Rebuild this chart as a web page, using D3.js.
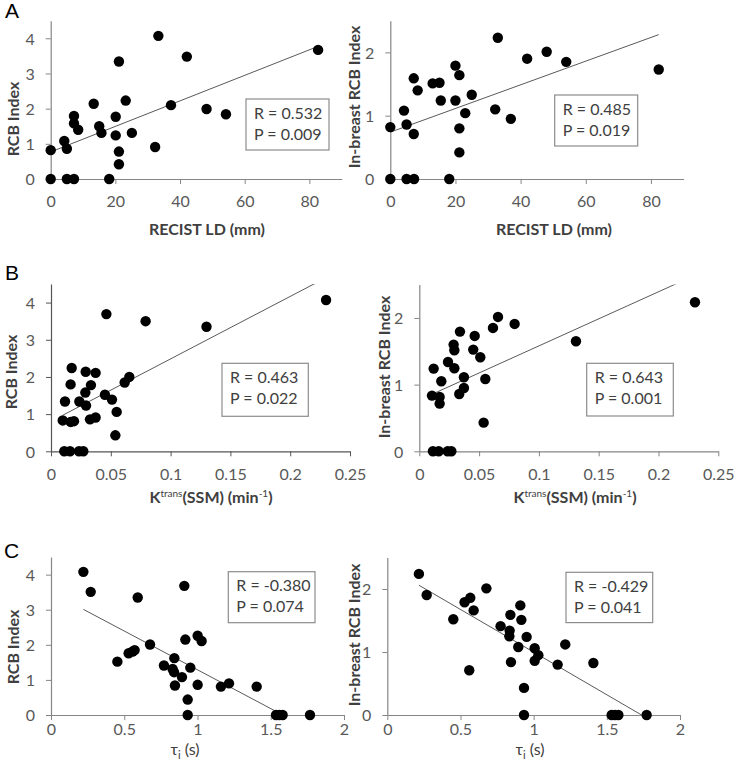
<!DOCTYPE html>
<html><head><meta charset="utf-8">
<script src="https://cdn.jsdelivr.net/npm/d3@7/dist/d3.min.js"></script>
<style>
html,body{margin:0;padding:0;background:#fff;}
svg{display:block;}
</style>
</head><body>
<svg id="chart" width="736" height="771"></svg>
<script>
// ---------- DATA ----------
// Panel A: RECIST longest diameter (mm)
const recistX_rcb = [0,0,4.2,5.0,5.0,7.2,7.2,7.2,8.5,13.3,15.0,15.7,18.1,20.1,20.1,21.1,21.1,21.1,23.2,25.1,32.3,33.3,37.2,42.1,48.2,54.2,82.7];
const rcbY_recist = [0.82,0,1.08,0.86,0,0,1.79,1.58,1.40,2.14,1.50,1.31,0,1.77,1.24,3.34,0.78,0.42,2.23,1.31,0.91,4.07,2.10,3.48,1.99,1.84,3.67];
const recistX_inb = [0,0,4.2,5.0,5.0,7.3,7.2,7.2,8.4,13.0,15.1,15.5,18.1,20.0,20.0,21.2,21.2,21.2,23.0,25.0,32.2,33.0,37.0,42.0,48.0,54.0,82.4];
const inbY_recist = [0.82,0,1.08,0.86,0,0,1.59,0.71,1.40,1.51,1.52,1.24,0,1.79,1.24,1.64,0.80,0.42,1.04,1.33,1.10,2.23,0.95,1.90,2.01,1.85,1.73];

// Panel B: Ktrans (SSM) (min^-1)
const ktransX_rcb = [0.0098,0.0117,0.0111,0.0159,0.0164,0.0173,0.0164,0.0192,0.0234,0.0270,0.0237,0.0290,0.0287,0.0293,0.0334,0.0326,0.0373,0.0373,0.0451,0.0463,0.0510,0.0549,0.0538,0.0616,0.0655,0.0791,0.1300,0.2300];
const rcbY_ktrans = [0.83,1.34,0,0,1.80,2.24,0.79,0.81,0,0,1.34,2.14,1.58,1.23,1.78,0.86,2.11,0.91,1.52,3.69,1.39,1.06,0.43,1.85,2.00,3.50,3.35,4.07];
const ktransX_inb = [0.0106,0.0120,0.0114,0.0162,0.0170,0.0170,0.0184,0.0237,0.0268,0.0240,0.0287,0.0293,0.0293,0.0340,0.0334,0.0373,0.0373,0.0451,0.0463,0.0510,0.0552,0.0538,0.0616,0.0658,0.0797,0.1310,0.2305];
const inbY_ktrans = [0.835,1.24,0,0,0.815,0.715,1.05,0,0,1.34,1.60,1.515,1.245,1.795,0.86,1.11,0.95,1.525,1.73,1.41,1.085,0.43,1.85,2.015,1.91,1.65,2.235];

// Panel C: tau_i (s)
const tauX_rcb = [0.221,0.271,0.453,0.530,0.557,0.571,0.592,0.676,0.771,0.842,0.830,0.840,0.846,0.894,0.910,0.917,0.933,0.933,0.951,1.001,1.028,1.001,1.160,1.215,1.404,1.536,1.558,1.581,1.768];
const rcbY_tau  = [4.08,3.51,1.52,1.76,1.81,1.85,3.35,2.01,1.41,1.62,1.31,1.22,0.84,1.08,3.68,2.15,0.44,0,1.35,2.26,2.11,0.86,0.81,0.90,0.81,0,0,0,0];
const tauX_inb = [0.216,0.269,0.451,0.528,0.567,0.590,0.560,0.677,0.774,0.841,0.836,0.834,0.845,0.895,0.909,0.916,0.934,0.934,0.952,1.007,1.007,1.032,1.164,1.216,1.408,1.533,1.556,1.579,1.772];
const inbY_tau  = [2.24,1.905,1.52,1.79,1.86,1.66,0.71,2.01,1.41,1.59,1.34,1.25,0.84,1.08,1.74,1.51,0.43,0,1.24,1.06,0.86,0.95,0.80,1.12,0.825,0,0,0,0];

// Linear trend lines: [x start, y start, x end, y end]
const trendA1 = [0, 0.77, 82.7, 3.77];
const trendA2 = [0, 0.74, 82.4, 2.28];
const trendB1 = [0.0098, 0.97, 0.23, 4.67];
const trendB2 = [0.0106, 0.855, 0.2305, 2.64];
const trendC1 = [0.221, 3.01, 1.768, -0.41];
const trendC2 = [0.216, 2.06, 1.772, -0.047];

// Statistics text
const statsA1 = ["R = 0.532", "P = 0.009"];
const statsA2 = ["R = 0.485", "P = 0.019"];
const statsB1 = ["R = 0.463", "P = 0.022"];
const statsB2 = ["R = 0.643", "P = 0.001"];
const statsC1 = ["R = -0.380", "P = 0.074"];
const statsC2 = ["R = -0.429", "P = 0.041"];

// Tick values and labels
const ticksRecist = [0,20,40,60,80];
const ticksKtrans = [0,0.05,0.1,0.15,0.2,0.25];
const labelsKtrans = ["0","0.05","0.1","0.15","0.2","0.25"];
const ticksTau = [0,0.5,1,1.5,2];
const labelsTau = ["0","0.5","1","1.5","2"];
const ticksRcb = [0,1,2,3,4];
const ticksInb = [0,1,2];

// ---------- LAYOUT ----------
const svg = d3.select("#chart");
const FONT = "Lato, 'Open Sans', sans-serif";

const panels = [
  {id:"A1", xs:recistX_rcb, ys:rcbY_recist, trend:trendA1, stats:statsA1,
   px:[50.7,341.7], py:[179,20.7], xd:[0,90], yd:[0,4.5], xt:ticksRecist, xl:ticksRecist.map(String), yt:ticksRcb,
   xTitle:"recist", xTitleX:207, xTitleY:235, yTitle:"RCB Index", yTitleX:12, yTitleY:119, xLabOff:28,
   box:[246,99,83,51], axisCol:"#868686"},
  {id:"A2", xs:recistX_inb, ys:inbY_recist, trend:trendA2, stats:statsA2,
   px:[390.3,683.5], py:[179,20.7], xd:[0,90], yd:[0,2.5], xt:ticksRecist, xl:ticksRecist.map(String), yt:ticksInb,
   xTitle:"recist", xTitleX:554, xTitleY:235, yTitle:"In-breast RCB Index", yTitleX:353, yTitleY:97, xLabOff:28,
   box:[554.7,95,83,51], axisCol:"#868686"},
  {id:"B1", xs:ktransX_rcb, ys:rcbY_ktrans, trend:trendB1, stats:statsB1,
   px:[51,350], py:[451.3,284], xd:[0,0.25], yd:[0,4.5], xt:ticksKtrans, xl:labelsKtrans, yt:ticksRcb,
   xTitle:"ktrans", xTitleX:211, xTitleY:503, yTitle:"RCB Index", yTitleX:10, yTitleY:372, xLabOff:28.5,
   box:[222,363.3,86.3,53], axisCol:"#555"},
  {id:"B2", xs:ktransX_inb, ys:inbY_ktrans, trend:trendB2, stats:statsB2,
   px:[419.3,718.3], py:[451.3,284.6], xd:[0,0.25], yd:[0,2.5], xt:ticksKtrans, xl:labelsKtrans, yt:ticksInb,
   xTitle:"ktrans", xTitleX:575, xTitleY:503, yTitle:"In-breast RCB Index", yTitleX:383, yTitleY:367, xLabOff:28.5,
   box:[586.7,363.3,86.6,52.7], axisCol:"#868686"},
  {id:"C1", xs:tauX_rcb, ys:rcbY_tau, trend:trendC1, stats:statsC1,
   px:[51,344], py:[715,557.1], xd:[0,2], yd:[0,4.5], xt:ticksTau, xl:labelsTau, yt:ticksRcb,
   xTitle:"tau", xTitleX:185, xTitleY:755, yTitle:"RCB Index", yTitleX:12, yTitleY:647, xLabOff:19.5,
   box:[228.3,571.7,86.7,51], axisCol:"#868686"},
  {id:"C2", xs:tauX_inb, ys:inbY_tau, trend:trendC2, stats:statsC2,
   px:[387.3,680], py:[715,557.5], xd:[0,2], yd:[0,2.5], xt:ticksTau, xl:labelsTau, yt:ticksInb,
   xTitle:"tau", xTitleX:530, xTitleY:755, yTitle:"In-breast RCB Index", yTitleX:353, yTitleY:635, xLabOff:19.5,
   box:[566,572.3,86.7,50.3], axisCol:"#868686"}
];

const defs = svg.append("defs");

panels.forEach(p => {
  const x = d3.scaleLinear().domain(p.xd).range(p.px);
  const y = d3.scaleLinear().domain(p.yd).range(p.py);
  const g = svg.append("g").attr("class","panel-"+p.id);

  // clip to plot area
  defs.append("clipPath").attr("id","clip"+p.id)
    .append("rect").attr("x",p.px[0]).attr("y",p.py[1])
    .attr("width",p.px[1]-p.px[0]).attr("height",p.py[0]-p.py[1]);

  // x axis
  const xa = g.append("g").attr("transform",`translate(0,${p.py[0]})`)
    .call(d3.axisBottom(x).tickValues(p.xt).tickFormat((d,i)=>p.xl[i]).tickSizeInner(5).tickSizeOuter(0).tickPadding(p.xLabOff-16));
  // y axis
  const ya = g.append("g").attr("transform",`translate(${p.px[0]},0)`)
    .call(d3.axisLeft(y).tickValues(p.yt).tickFormat(d3.format("d")).tickSizeInner(5).tickSizeOuter(0).tickPadding(11));
  [xa,ya].forEach(a=>{
    a.select(".domain").attr("stroke",p.axisCol).attr("stroke-width",1.2);
    a.selectAll(".tick line").attr("stroke",p.axisCol).attr("stroke-width",1);
    a.selectAll(".tick text").attr("fill","#595959").style("font-family",FONT).style("font-size","16px");
  });
  xa.selectAll(".tick text").attr("dy","0.71em");
  ya.selectAll(".tick text").attr("dy","0.36em");

  // trend line
  const t = p.trend;
  g.append("line").attr("clip-path",`url(#clip${p.id})`)
    .attr("x1",x(t[0])).attr("y1",y(t[1])).attr("x2",x(t[2])).attr("y2",y(t[3]))
    .attr("stroke","#595959").attr("stroke-width",1);

  // points
  g.selectAll("circle.pt").data(p.xs.map((v,i)=>[v,p.ys[i]])).enter()
    .append("circle").attr("class","pt")
    .attr("cx",d=>x(d[0])).attr("cy",d=>y(d[1])).attr("r",5.2).attr("fill","#000");

  // stats box
  const b = p.box;
  g.append("rect").attr("x",b[0]).attr("y",b[1]).attr("width",b[2]).attr("height",b[3])
    .attr("fill","#fff").attr("stroke","#8c8c8c").attr("stroke-width",1.2);
  p.stats.forEach((s,i)=>{
    g.append("text").attr("x",b[0]+8).attr("y",b[1]+19.5+i*21)
      .attr("fill","#404040").style("font-family",FONT).style("font-size","16px").text(s);
  });

  // y title
  g.append("text").attr("transform",`translate(${p.yTitleX},${p.yTitleY}) rotate(-90)`)
    .attr("text-anchor","middle").attr("dominant-baseline","central")
    .attr("fill","#404040").style("font-family",FONT).style("font-size","16px").style("font-weight","700")
    .text(p.yTitle);

  // x title
  const xt = g.append("text").attr("x",p.xTitleX).attr("y",p.xTitleY).attr("text-anchor","middle")
    .attr("fill","#404040").style("font-family",FONT).style("font-size","16px").style("font-weight","700");
  if (p.xTitle==="recist") {
    xt.text("RECIST LD (mm)");
  } else if (p.xTitle==="ktrans") {
    xt.append("tspan").text("K");
    xt.append("tspan").attr("dy",-6).style("font-size","10px").style("font-weight","400").text("trans");
    xt.append("tspan").attr("dy",6).text("(SSM) (min");
    xt.append("tspan").attr("dy",-6).style("font-size","10px").style("font-weight","400").text("-1");
    xt.append("tspan").attr("dy",6).text(")");
  } else {
    xt.append("tspan").style("font-weight","400").text("τ");
    xt.append("tspan").attr("dy",4).style("font-size","11px").style("font-weight","400").text("i");
    xt.append("tspan").attr("dy",-4).style("font-weight","400").text(" (s)");
  }
});

// panel letters
[["A",5,18],["B",5,280],["C",4,558]].forEach(l=>{
  svg.append("text").attr("x",l[1]).attr("y",l[2]).attr("fill","#000")
    .style("font-family","'Liberation Sans', Arial, sans-serif").style("font-size","21px").text(l[0]);
});
</script>
</body></html>
